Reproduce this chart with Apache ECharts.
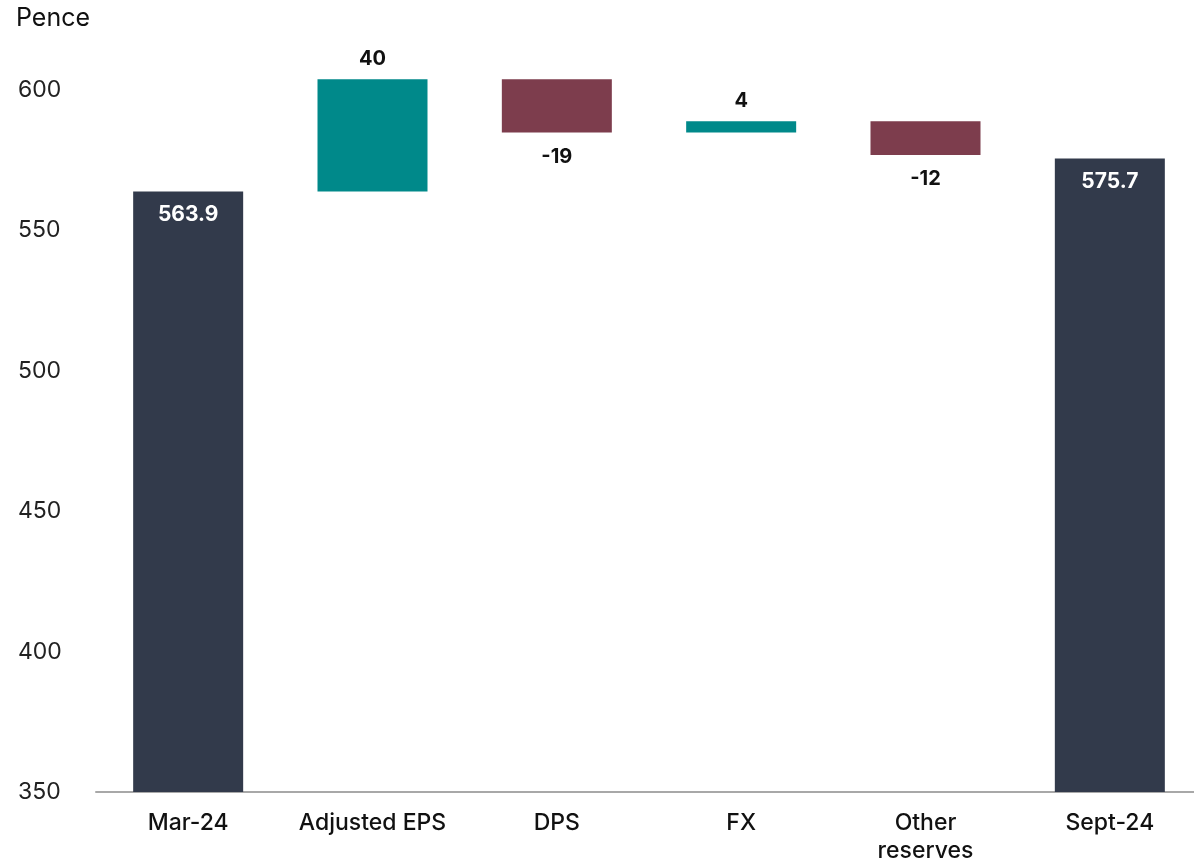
<!DOCTYPE html>
<html>
<head>
<meta charset="utf-8">
<script src="https://cdn.jsdelivr.net/npm/echarts@6/dist/echarts.min.js"></script>
<style>
  html, body { margin: 0; padding: 0; background: #ffffff; }
  #chart { width: 1194px; height: 864px; }
</style>
</head>
<body>
<div id="chart"></div>
<script>
// Net asset value per share bridge, in pence
const categories = ['Mar-24', 'Adjusted EPS', 'DPS', 'FX', 'Other\nreserves', 'Sept-24'];
const openingValue = 563.9;
const closingValue = 575.7;
const movements = [40, -19, 4, -12];
const yTicks = { min: 350, max: 625, interval: 50 };

const COLOR_TOTAL = '#323a4b';
const COLOR_UP = '#00898a';
const COLOR_DOWN = '#7d3d4d';
const FONT = 'Inter, "Noto Sans", sans-serif';

// Build floating bars: an invisible base plus the visible step for each movement
const baseData = [];
const stepData = [];
const totalData = [];
let running = openingValue;

totalData.push({ value: openingValue });
baseData.push('-');
stepData.push('-');

movements.forEach(function (d) {
  const low = d >= 0 ? running : running + d;
  baseData.push(low);
  stepData.push({
    value: Math.abs(d),
    delta: d,
    itemStyle: { color: d >= 0 ? COLOR_UP : COLOR_DOWN },
    label: { position: d >= 0 ? 'top' : 'bottom', distance: d >= 0 ? 10 : 14 }
  });
  totalData.push('-');
  running += d;
});

totalData.push({ value: closingValue });
baseData.push('-');
stepData.push('-');

const chart = echarts.init(document.getElementById('chart'), null, { renderer: 'canvas' });

chart.setOption({
  animation: false,
  backgroundColor: '#ffffff',
  textStyle: { fontFamily: FONT },
  graphic: [{
    type: 'text',
    left: 16,
    top: 6,
    style: { text: 'Pence', font: '400 25px ' + FONT, fill: '#111111' }
  }],
  grid: {
    left: 96,
    width: 1106,
    top: 20,
    bottom: 72,
    containLabel: false,
    outerBoundsMode: 'none'
  },
  xAxis: {
    type: 'category',
    data: categories,
    axisLine: { show: true, lineStyle: { color: '#a8a8a8', width: 2 } },
    axisTick: { show: false },
    axisLabel: {
      color: '#111111',
      fontSize: 23,
      fontWeight: 500,
      fontFamily: FONT,
      lineHeight: 28,
      margin: 17,
      interval: 0
    }
  },
  yAxis: {
    type: 'value',
    min: yTicks.min,
    max: yTicks.max,
    interval: yTicks.interval,
    splitLine: { show: false },
    axisLine: { show: false },
    axisTick: { show: false },
    axisLabel: {
      showMaxLabel: false,
      align: 'left',
      margin: 78,
      padding: [4, 0, 0, 0],
      color: '#222222',
      fontSize: 23,
      fontFamily: FONT
    }
  },
  series: [
    {
      name: 'base',
      type: 'bar',
      stack: 'bridge',
      barWidth: 110,
      itemStyle: { color: 'transparent' },
      emphasis: { disabled: true },
      data: baseData
    },
    {
      name: 'movement',
      type: 'bar',
      stack: 'bridge',
      barWidth: 110,
      data: stepData,
      label: {
        show: true,
        color: '#111111',
        fontSize: 20,
        fontWeight: 'bold',
        fontFamily: FONT,
        formatter: function (p) { return String(p.data.delta); }
      }
    },
    {
      name: 'total',
      type: 'bar',
      stack: 'bridge',
      barWidth: 110,
      itemStyle: { color: COLOR_TOTAL },
      data: totalData,
      label: {
        show: true,
        position: 'insideTop',
        distance: 13,
        color: '#ffffff',
        fontSize: 21,
        fontWeight: 'bold',
        fontFamily: FONT,
        formatter: function (p) { return p.value.toFixed(1); }
      }
    }
  ]
});
</script>
</body>
</html>
